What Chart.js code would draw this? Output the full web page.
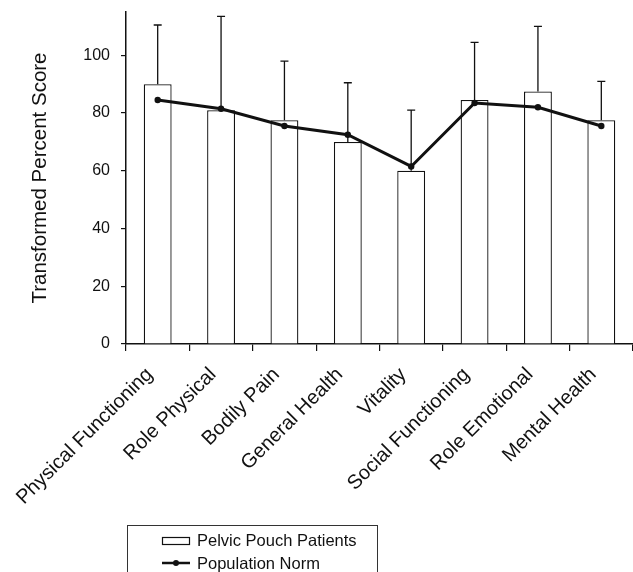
<!DOCTYPE html>
<html>
<head>
<meta charset="utf-8">
<script src="https://cdn.jsdelivr.net/npm/chart.js"></script>
<style>
  html, body { margin: 0; padding: 0; background: #fff; }
</style>
</head>
<body>
<canvas id="myChart" width="633" height="572"></canvas>
<script>
var labels = ['Physical Functioning', 'Role Physical', 'Bodily Pain', 'General Health', 'Vitality', 'Social Functioning', 'Role Emotional', 'Mental Health'];
var pouchScores = [90, 81, 77.5, 70, 60, 84.5, 87.5, 77.5];
var pouchErrTop = [110.5, 113.5, 98, 90.5, 81, 104.5, 110, 91];
var normScores = [84.5, 81.5, 75.5, 72.5, 61.5, 83.5, 82, 75.5];
var yTicks = [0, 20, 40, 60, 80, 100];
var seriesNames = ['Pelvic Pouch Patients', 'Population Norm'];

var ink = '#111';
var fontFamily = '"Liberation Sans", Arial, sans-serif';

// error bars above the bars, drawn right after the bar dataset
var errorBars = {
    id: 'errorBars',
    afterDatasetDraw: function (chart, args) {
        if (args.index !== 0) return;
        var ctx = chart.ctx, y = chart.scales.y;
        ctx.save();
        ctx.strokeStyle = ink;
        ctx.lineWidth = 1.3;
        args.meta.data.forEach(function (bar, i) {
            var top = y.getPixelForValue(pouchErrTop[i]);
            ctx.beginPath();
            ctx.moveTo(bar.x, bar.y);
            ctx.lineTo(bar.x, top);
            ctx.moveTo(bar.x - 4, top);
            ctx.lineTo(bar.x + 4, top);
            ctx.stroke();
        });
        ctx.restore();
    }
};

// boxed legend under the labels
var legendBox = {
    id: 'legendBox',
    afterDraw: function (chart) {
        var ctx = chart.ctx;
        ctx.save();
        ctx.strokeStyle = '#333';
        ctx.lineWidth = 1;
        ctx.strokeRect(127.5, 525.5, 250, 60);

        ctx.fillStyle = '#fff';
        ctx.strokeStyle = ink;
        ctx.lineWidth = 1.2;
        ctx.fillRect(162, 537, 28, 8);
        ctx.strokeRect(162.5, 537.5, 27, 7);

        ctx.lineWidth = 2.5;
        ctx.beginPath();
        ctx.moveTo(162, 563);
        ctx.lineTo(190, 563);
        ctx.stroke();
        ctx.fillStyle = ink;
        ctx.beginPath();
        ctx.arc(176, 563, 3, 0, Math.PI * 2);
        ctx.fill();

        ctx.font = '16.5px ' + fontFamily;
        ctx.textBaseline = 'middle';
        ctx.fillText(chart.data.datasets[0].label, 197, 541);
        ctx.fillText(chart.data.datasets[1].label, 197, 564);
        ctx.restore();
    }
};

var ctx = document.getElementById('myChart').getContext('2d');
var chart = new Chart(ctx, {
    type: 'bar',
    data: {
        labels: labels,
        datasets: [
            {
                type: 'bar',
                label: seriesNames[0],
                data: pouchScores,
                backgroundColor: '#fff',
                borderColor: ink,
                borderWidth: 1.3,
                barPercentage: 0.44,
                categoryPercentage: 1,
                order: 1
            },
            {
                type: 'line',
                label: seriesNames[1],
                data: normScores,
                borderColor: ink,
                borderWidth: 3,
                backgroundColor: ink,
                pointRadius: 3.2,
                pointBorderWidth: 0,
                pointBackgroundColor: ink,
                tension: 0,
                order: 0
            }
        ]
    },
    options: {
        responsive: false,
        animation: false,
        layout: { autoPadding: false, padding: { top: 12, right: 0, bottom: 0, left: 0 } },
        plugins: {
            legend: { display: false },
            tooltip: { enabled: false }
        },
        scales: {
            x: {
                grid: { offset: true, drawOnChartArea: false, tickLength: 7, color: ink, lineWidth: 1.2 },
                border: { color: ink, width: 1.5 },
                ticks: {
                    minRotation: 45, maxRotation: 45, padding: 12, labelOffset: -8,
                    color: ink, font: { family: fontFamily, size: 20 }
                },
                afterFit: function (s) {
                    s.height = 228;
                    s.paddingLeft = 0;
                    s.paddingRight = 0;
                }
            },
            y: {
                min: 0,
                max: 115,
                afterBuildTicks: function (s) {
                    s.ticks = yTicks.map(function (v) { return { value: v }; });
                },
                grid: { drawOnChartArea: false, tickLength: 5, color: ink, lineWidth: 1.2 },
                border: { color: ink, width: 1.5 },
                ticks: { padding: 11, color: ink, font: { family: fontFamily, size: 16 } },
                title: {
                    display: true,
                    text: 'Transformed Percent Score',
                    color: ink,
                    font: { family: fontFamily, size: 20.5 },
                    padding: { top: 28, bottom: 0 }
                },
                afterFit: function (s) {
                    s.width = 126;
                    s.paddingTop = 0;
                    s.paddingBottom = 0;
                }
            }
        }
    },
    plugins: [errorBars, legendBox]
});
</script>
</body>
</html>
